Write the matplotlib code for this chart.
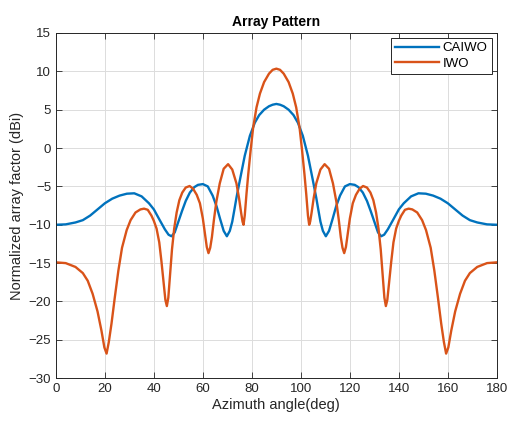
import numpy as np
import matplotlib
matplotlib.use("Agg")
import matplotlib.pyplot as plt

# CAIWO curve (deg, dBi)
caiwo_deg = [0, 4, 8, 11, 14, 17, 20, 23, 26, 29, 32, 35, 38, 40, 42.4, 44.5, 46, 47.2,
             48.5, 50, 51.5, 53, 54.7, 56.5, 58, 60, 62, 64, 65.6, 67, 68.5, 69.8, 71,
             72, 73, 73.7, 75.1, 77.1, 79.2, 81.2, 83, 85, 87, 88.5, 90,
             91.5, 93, 95, 97, 98.8, 100.8, 102.9, 104.9, 106.3, 107, 108, 109, 110.2,
             111.5, 113, 114.4, 116, 118, 120, 122, 123.5, 125.3, 127, 128.5, 130,
             131.5, 132.8, 134, 135.5, 137.6, 140, 142, 145, 148, 151, 154, 157, 160,
             163, 166, 169, 172, 176, 180]
caiwo_db = [-10.0, -9.95, -9.7, -9.4, -8.8, -8.0, -7.2, -6.6, -6.2, -5.95, -5.9, -6.3,
            -7.2, -8.0, -9.4, -10.6, -11.3, -11.5, -11.0, -9.6, -8.2, -6.9, -5.8, -5.1,
            -4.8, -4.7, -5.0, -6.2, -7.6, -9.2, -10.8, -11.5, -10.8, -9.6, -7.8, -6.5,
            -4.2, -1.0, 1.6, 3.3, 4.3, 5.0, 5.45, 5.65, 5.75,
            5.65, 5.45, 5.0, 4.3, 3.3, 1.6, -1.0, -4.2, -6.5, -7.8, -9.6, -10.8, -11.5,
            -10.8, -9.2, -7.6, -6.2, -5.0, -4.7, -4.8, -5.1, -5.8, -6.9, -8.2, -9.6,
            -11.0, -11.5, -11.3, -10.6, -9.4, -8.0, -7.2, -6.3, -5.9, -5.95, -6.2, -6.6,
            -7.2, -8.0, -8.8, -9.4, -9.7, -9.95, -10.0]

# IWO curve
iwo_deg = [0, 4, 8, 11, 13, 15, 17, 18.6, 19.8, 20.7, 21.6, 22.7, 24, 25.5, 27, 28.9,
           30.5, 32.5, 34.5, 36, 37.5, 39, 40, 41.1, 42.2, 43.1, 44, 44.7, 45.3, 45.9,
           46.6, 47.4, 48.3, 49.3, 50.4, 51.6, 53, 54.6, 56, 57.5, 58.8, 60, 60.8, 61.6,
           62.3, 63, 63.7, 64.5, 65.5, 66.9, 68.5, 70.3, 72, 73.7, 74.8, 75.6, 76.2,
           76.6, 77.1, 77.8, 78.5, 79.5, 80.5, 81.9, 83.3, 85, 87, 88.5, 90,
           91.5, 93, 95, 96.7, 98.1, 99.5, 100.5, 101.5, 102.2, 102.9, 103.4, 103.8,
           104.4, 105.2, 106.3, 108, 109.7, 111.5, 113.1, 114.5, 115.5, 116.3, 117,
           117.7, 118.4, 119.2, 120, 121.2, 122.5, 124, 125.4, 127, 128.4, 129.6, 130.7,
           131.7, 132.6, 133.4, 134.1, 134.7, 135.3, 136, 136.9, 137.8, 138.9, 140, 141,
           142.5, 144, 145.5, 147.5, 149.5, 151.1, 153, 154.5, 156, 157.3, 158.4, 159.3,
           160.2, 161.4, 163, 165, 167, 169, 172, 176, 180]
iwo_db = [-14.9, -15.0, -15.5, -16.3, -17.3, -19.0, -21.3, -23.8, -26.0, -26.8, -25.3,
          -22.9, -19.6, -16.0, -13.0, -10.7, -9.4, -8.4, -8.0, -7.9, -8.05, -8.8, -9.5,
          -10.5, -12.3, -14.8, -17.6, -19.8, -20.6, -19.5, -16.5, -13.2, -10.5, -8.4,
          -6.8, -5.8, -5.15, -4.95, -5.3, -6.1, -7.2, -9.2, -11.1, -12.9, -13.7, -13.0,
          -11.6, -9.4, -7.0, -4.6, -2.7, -2.1, -2.8, -4.6, -6.6, -8.4, -9.6, -10.0,
          -8.8, -6.0, -3.5, -0.3, 2.6, 5.3, 7.1, 8.6, 9.7, 10.2, 10.35,
          10.2, 9.7, 8.6, 7.1, 5.3, 2.6, -0.3, -3.5, -6.0, -8.8, -10.0, -9.6, -8.4,
          -6.6, -4.6, -2.8, -2.1, -2.7, -4.6, -7.0, -9.4, -11.6, -13.0, -13.7, -12.9,
          -11.1, -9.2, -7.2, -6.1, -5.3, -4.95, -5.15, -5.8, -6.8, -8.4, -10.5, -13.2,
          -16.5, -19.5, -20.6, -19.8, -17.6, -14.8, -12.3, -10.5, -9.5, -8.8, -8.05,
          -7.9, -8.0, -8.4, -9.4, -10.7, -13.0, -16.0, -19.6, -22.9, -25.3, -26.8,
          -26.0, -23.8, -21.3, -19.0, -17.3, -16.3, -15.5, -15.0, -14.9]

x_ticks = [0, 20, 40, 60, 80, 100, 120, 140, 160, 180]
y_ticks = [-30, -25, -20, -15, -10, -5, 0, 5, 10, 15]

plt.rcParams['font.family'] = ['Liberation Sans', 'DejaVu Sans']

fig = plt.figure(figsize=(5.08, 4.23), dpi=100)
ax = fig.add_axes([0.110, 0.106, 0.868, 0.816])

ax.plot(caiwo_deg, caiwo_db, color='#0072BD', linewidth=1.7, label='CAIWO',
        solid_joinstyle='round')
ax.plot(iwo_deg, iwo_db, color='#D95319', linewidth=1.7, label='IWO',
        solid_joinstyle='round')

ax.set_xlim(0, 180)
ax.set_ylim(-30, 15)
ax.set_xticks(x_ticks)
ax.set_yticks(y_ticks)
ax.grid(True, color='#dcdcdc', linewidth=0.7)
ax.set_axisbelow(True)
ax.tick_params(direction='in', top=True, right=True, labelsize=9.5, colors='#262626',
               length=4, width=0.6)
for s in ax.spines.values():
    s.set_color('#262626')
    s.set_linewidth(0.7)

ax.set_title('Array Pattern', fontsize=10, fontweight='bold', pad=5)
ax.set_xlabel('Azimuth angle(deg)', fontsize=10.5, color='#262626', labelpad=2)
ax.set_ylabel('Normalized array factor (dBi)', fontsize=10.5, color='#262626', labelpad=3)

leg = ax.legend(loc='upper right', fontsize=9.5, fancybox=False, framealpha=1,
                edgecolor='#262626', borderaxespad=0.4, handlelength=3.3,
                handletextpad=0.3, borderpad=0.3, labelspacing=0.25)
leg.get_frame().set_linewidth(0.7)

fig.savefig('out.png', dpi=100)
